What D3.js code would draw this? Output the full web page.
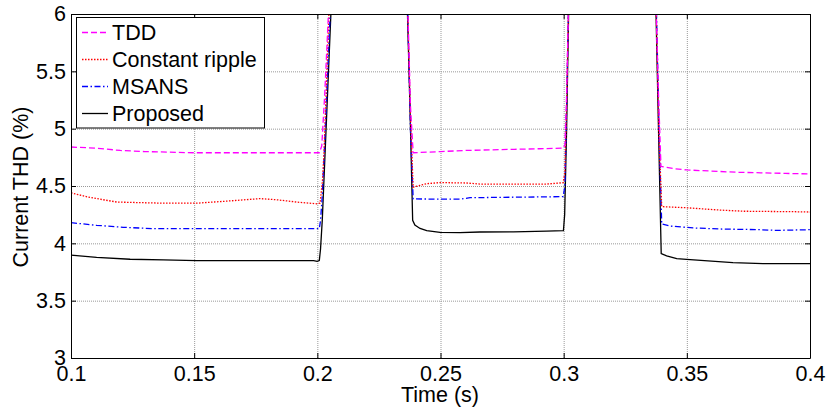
<!DOCTYPE html>
<html>
<head>
<meta charset="utf-8">
<script src="https://cdn.jsdelivr.net/npm/d3@7"></script>
<style>
body{margin:0;background:#fff;}
svg{font-family:"Liberation Sans",Arial,sans-serif;}
</style>
</head>
<body>
<div id="chart"></div>
<script>
// values (6.6 = off the top, clipped)
var tddTime  = [0.1,0.11,0.12,0.13,0.14,0.15,0.18,0.2008,0.2018,0.2030,0.2045,0.2055,0.2360,0.2368,0.2378,0.2389,0.25,0.26,0.27,0.28,0.29,0.2998,0.3005,0.3012,0.3019,0.3030,0.3370,0.3376,0.3385,0.3395,0.345,0.35,0.36,0.37,0.38,0.39,0.4];
var tddValue = [4.84,4.83,4.81,4.80,4.795,4.79,4.79,4.79,4.85,5.3,6.0,6.6,6.6,6.0,5.2,4.79,4.80,4.81,4.815,4.82,4.825,4.83,4.86,5.3,6.0,6.6,6.6,6.0,5.3,4.67,4.65,4.64,4.63,4.62,4.615,4.61,4.605];

var crTime  = [0.1,0.1077,0.1186,0.1375,0.151,0.1645,0.1767,0.1835,0.1916,0.1997,0.2011,0.2021,0.2027,0.2047,0.2058,0.2360,0.2367,0.2378,0.2389,0.2443,0.2498,0.2606,0.266,0.2931,0.2998,0.3005,0.3012,0.3019,0.3030,0.3370,0.3376,0.3386,0.3398,0.35,0.3635,0.373,0.3932,0.4];
var crValue = [4.44,4.40,4.36,4.35,4.35,4.37,4.39,4.38,4.36,4.345,4.35,4.55,4.79,6.0,6.6,6.6,6.0,5.1,4.49,4.52,4.53,4.526,4.517,4.517,4.529,4.62,5.2,6.0,6.6,6.6,6.0,5.0,4.32,4.31,4.29,4.28,4.276,4.273];

var msTime  = [0.1,0.1104,0.1212,0.1334,0.1995,0.2008,0.2013,0.2019,0.2027,0.2052,0.2062,0.2360,0.2367,0.2378,0.2389,0.2579,0.262,0.2998,0.3005,0.3012,0.3019,0.3030,0.3370,0.3377,0.3388,0.3398,0.3431,0.3526,0.3635,0.3797,0.3865,0.4];
var msValue = [4.18,4.157,4.14,4.128,4.128,4.128,4.2,4.38,4.73,6.0,6.6,6.6,6.0,5.0,4.387,4.385,4.398,4.407,4.5,5.2,6.0,6.6,6.6,6.0,4.9,4.169,4.151,4.134,4.125,4.119,4.113,4.119];

var prTime  = [0.1,0.1104,0.124,0.1375,0.151,0.1985,0.1999,0.2008,0.2013,0.2020,0.2055,0.2065,0.2358,0.2366,0.2376,0.2387,0.2396,0.2417,0.2444,0.2498,0.2579,0.266,0.2796,0.2931,0.2999,0.3004,0.3012,0.3020,0.3030,0.3368,0.3375,0.3385,0.3396,0.3418,0.3459,0.3499,0.3687,0.3809,0.4];
var prValue = [3.898,3.878,3.861,3.855,3.849,3.849,3.843,3.85,3.95,4.2,6.0,6.6,6.6,6.0,5.2,4.2,4.16,4.13,4.11,4.096,4.093,4.099,4.10,4.107,4.11,4.25,5.0,6.0,6.6,6.6,6.0,5.0,3.91,3.89,3.866,3.86,3.831,3.823,3.823];

var seriesNames = ["TDD","Constant ripple","MSANS","Proposed"];
var xTicks = [0.1,0.15,0.2,0.25,0.3,0.35,0.4];
var yTicks = [3,3.5,4,4.5,5,5.5,6];

var width = 827, height = 412;
// plot box edges (window.top is reserved, so no plain "top")
var pLeft = 71, pRight = 810, pTop = 14, pBottom = 358;

var svg = d3.select("#chart").append("svg")
	.attr("width", width)
	.attr("height", height);

var xscale = d3.scaleLinear().domain([0.1,0.4]).range([pLeft,pRight]);
var yscale = d3.scaleLinear().domain([3,6]).range([pBottom,pTop]);

// grid
svg.append("g")
	.attr("transform","translate(0,"+pBottom+")")
	.call(d3.axisBottom(xscale).tickValues(xTicks).tickSize(-(pBottom-pTop)).tickFormat(""))
	.call(function(g){ g.select(".domain").remove(); })
	.selectAll("line")
	.attr("stroke","#999").attr("stroke-dasharray","1,1");
svg.append("g")
	.attr("transform","translate("+pLeft+",0)")
	.call(d3.axisLeft(yscale).tickValues(yTicks).tickSize(-(pRight-pLeft)).tickFormat(""))
	.call(function(g){ g.select(".domain").remove(); })
	.selectAll("line")
	.attr("stroke","#999").attr("stroke-dasharray","1,1");

svg.append("clipPath").attr("id","clip")
	.append("rect")
	.attr("x",pLeft).attr("y",pTop)
	.attr("width",pRight-pLeft).attr("height",pBottom-pTop);

var line = d3.line()
	.x(function(d){ return xscale(d[0]); })
	.y(function(d){ return yscale(d[1]); });

function pairs(t,v){ return t.map(function(d,i){ return [d,v[i]]; }); }

var series = [
	{name:seriesNames[0], data:pairs(tddTime,tddValue), color:"#ff00ff", dash:"6,3"},
	{name:seriesNames[1], data:pairs(crTime,crValue), color:"#ff0000", dash:"1.5,1.5"},
	{name:seriesNames[2], data:pairs(msTime,msValue), color:"#0000ff", dash:"6,2.5,1.5,2.5"},
	{name:seriesNames[3], data:pairs(prTime,prValue), color:"#000000", dash:null}
];

var plot = svg.append("g").attr("clip-path","url(#clip)");
// proposed first so the coloured ones sit on top
plot.selectAll("path.series")
	.data(series.slice().reverse())
	.enter().append("path")
	.attr("class","series")
	.attr("d",function(d){ return line(d.data); })
	.attr("fill","none")
	.attr("stroke",function(d){ return d.color; })
	.attr("stroke-width",1.3)
	.attr("stroke-dasharray",function(d){ return d.dash; });

// axes, ticks inward
var fontSize = 21.5;
svg.append("g")
	.attr("class","axis")
	.attr("transform","translate(0,"+pBottom+")")
	.call(d3.axisBottom(xscale).tickValues(xTicks).tickSizeInner(-5).tickSizeOuter(0).tickPadding(8).tickFormat(d3.format("")));
svg.append("g")
	.attr("class","axis")
	.attr("transform","translate("+pLeft+",0)")
	.call(d3.axisLeft(yscale).tickValues(yTicks).tickSizeInner(-5).tickSizeOuter(0).tickPadding(5).tickFormat(d3.format("")));
svg.append("g")
	.attr("class","axis")
	.attr("transform","translate(0,"+pTop+")")
	.call(d3.axisTop(xscale).tickValues(xTicks).tickSizeInner(-5).tickSizeOuter(0).tickFormat(""));
svg.append("g")
	.attr("class","axis")
	.attr("transform","translate("+pRight+",0)")
	.call(d3.axisRight(yscale).tickValues(yTicks).tickSizeInner(-5).tickSizeOuter(0).tickFormat(""));

svg.selectAll(".axis .tick text")
	.attr("font-size",fontSize)
	.attr("font-family","Liberation Sans, Arial, sans-serif")
	.attr("fill","#000");
svg.selectAll(".axis .domain").attr("stroke","#000");
svg.selectAll(".axis .tick line").attr("stroke","#000");

// axis titles
svg.append("text")
	.attr("x",440).attr("y",402)
	.attr("text-anchor","middle")
	.attr("font-size",fontSize)
	.text("Time (s)");
svg.append("text")
	.attr("transform","translate(28,187) rotate(-90)")
	.attr("text-anchor","middle")
	.attr("font-size",fontSize)
	.text("Current THD (%)");

// legend
var legend = svg.append("g");
legend.append("rect")
	.attr("x",76.5).attr("y",17.5)
	.attr("width",188).attr("height",110.5)
	.attr("fill","#fff").attr("stroke","#000");
var items = legend.selectAll("g.item")
	.data(series)
	.enter().append("g")
	.attr("class","item")
	.attr("transform",function(d,i){ return "translate(0,"+(32.5+i*27)+")"; });
items.append("line")
	.attr("x1",82).attr("x2",108)
	.attr("stroke",function(d){ return d.color; })
	.attr("stroke-width",1.3)
	.attr("stroke-dasharray",function(d){ return d.dash; });
items.append("text")
	.attr("x",112).attr("y",7.8)
	.attr("font-size",fontSize)
	.text(function(d){ return d.name; });
</script>
</body>
</html>
